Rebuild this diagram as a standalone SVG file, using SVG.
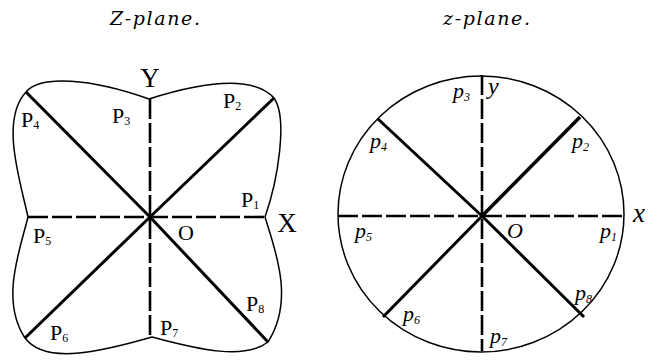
<svg xmlns="http://www.w3.org/2000/svg" width="650" height="362" viewBox="0 0 650 362">
<style>
.outline{fill:none;stroke:#000;stroke-width:1.5}
.diag{stroke:#000;stroke-width:3;stroke-linecap:butt}
.axis{stroke:#000;stroke-width:2.6;stroke-dasharray:20 4}
.title{font-family:"DejaVu Serif","Liberation Serif",serif;font-style:italic;font-size:19px;fill:#000}
.lbl{font-family:"Liberation Serif",serif;font-size:22px;fill:#000}
.big{font-family:"Liberation Serif",serif;font-size:27px;fill:#000}
.it{font-style:italic}
.sub{font-size:12px}
</style>
<rect width="650" height="362" fill="#fff"/>
<text class="title" x="110" y="25" textLength="90" lengthAdjust="spacing">Z-plane.</text>
<text class="title" x="443" y="25" textLength="87" lengthAdjust="spacing">z-plane.</text>

<g id="Zplane">
<path class="outline" d="M26,92 C40,75 90,78 149,99 C190,86 250,72 274,98 C288,118 278,180 265,217 C275,250 295,300 268,342 C245,360 200,350 152,337 C100,352 45,365 25,338 C0,300 20,250 28,217 C20,180 0,120 26,92 Z"/>
<g id="Zconnectors">
<line class="axis" x1="28" y1="217" x2="265" y2="217"/>
<line class="axis" x1="150" y1="99" x2="150" y2="337"/>
<line class="diag" x1="150" y1="217" x2="26" y2="92"/>
<line class="diag" x1="150" y1="217" x2="274" y2="98"/>
<line class="diag" x1="150" y1="217" x2="25" y2="338"/>
<line class="diag" x1="150" y1="217" x2="268" y2="342"/>
</g>
<text class="big" x="150" y="87" text-anchor="middle">Y</text>
<text class="big" x="287" y="232" text-anchor="middle">X</text>
<text class="lbl" x="178" y="240">O</text>
<text class="lbl" x="241" y="207">P<tspan class="sub" dy="2">1</tspan></text>
<text class="lbl" x="223" y="108">P<tspan class="sub" dy="2">2</tspan></text>
<text class="lbl" x="112" y="123">P<tspan class="sub" dy="2">3</tspan></text>
<text class="lbl" x="21" y="127">P<tspan class="sub" dy="2">4</tspan></text>
<text class="lbl" x="33" y="243">P<tspan class="sub" dy="2">5</tspan></text>
<text class="lbl" x="50" y="340">P<tspan class="sub" dy="2">6</tspan></text>
<text class="lbl" x="160" y="335">P<tspan class="sub" dy="2">7</tspan></text>
<text class="lbl" x="246" y="311">P<tspan class="sub" dy="2">8</tspan></text>
</g>

<g id="zplane">
<ellipse class="outline" cx="481" cy="214" rx="143" ry="138"/>
<g id="zconnectors">
<line class="axis" x1="338" y1="216" x2="624" y2="216"/>
<line class="axis" x1="482" y1="75" x2="482" y2="351"/>
<line class="diag" x1="482" y1="216" x2="580" y2="117" style="stroke-width:3.5"/>
<line class="diag" x1="482" y1="216" x2="378" y2="119"/>
<line class="diag" x1="482" y1="216" x2="383" y2="317"/>
<line class="diag" x1="482" y1="216" x2="584" y2="317"/>
</g>
<text class="big it" x="488" y="94" style="font-size:24px">y</text>
<text class="big it" x="633" y="222">x</text>
<text class="lbl it" x="507" y="238">O</text>
<text class="lbl it" x="600" y="238">p<tspan class="sub" dy="3">1</tspan></text>
<text class="lbl it" x="572" y="148">p<tspan class="sub" dy="3">2</tspan></text>
<text class="lbl it" x="453" y="98">p<tspan class="sub" dy="3">3</tspan></text>
<text class="lbl it" x="370" y="148">p<tspan class="sub" dy="3">4</tspan></text>
<text class="lbl it" x="355" y="238">p<tspan class="sub" dy="3">5</tspan></text>
<text class="lbl it" x="403" y="321">p<tspan class="sub" dy="3">6</tspan></text>
<text class="lbl it" x="490" y="343">p<tspan class="sub" dy="3">7</tspan></text>
<text class="lbl it" x="575" y="300">p<tspan class="sub" dy="3">8</tspan></text>
</g>
</svg>
